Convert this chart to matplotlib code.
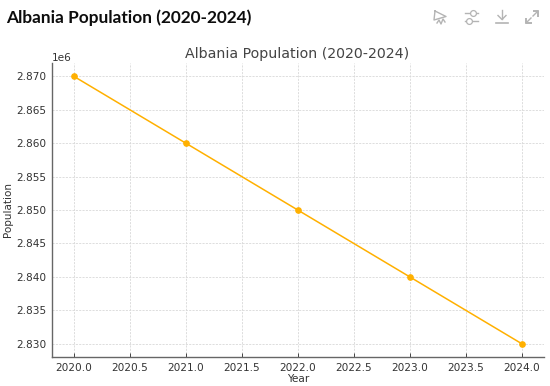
import matplotlib
matplotlib.use("Agg")
import matplotlib.pyplot as plt
from matplotlib.lines import Line2D

years = [2020, 2021, 2022, 2023, 2024]
population = [2870000, 2860000, 2850000, 2840000, 2830000]
title = "Albania Population (2020-2024)"

W, H = 550, 386
fig = plt.figure(figsize=(W / 100, H / 100), dpi=100, facecolor="white")
L, R, T, B = 51.5, 544, 63, 357
ax = fig.add_axes([L / W, 1 - B / H, (R - L) / W, (B - T) / H])

ax.plot(years, population, color="#FFB000", lw=1.1, marker="o", ms=3.8)
ax.set_title(title, fontsize=10.2, color="#444444", pad=3.5, x=0.498)
ax.set_xlabel("Year", fontsize=7.6, color="#333333", labelpad=1.2)
ax.set_ylabel("Population", fontsize=7.5, color="#333333", labelpad=0)
ax.yaxis.set_label_coords(-0.078, 0.5)
ax.grid(True, ls=(0, (2.5, 1.5)), lw=0.6, color="#d8d8d8")
ax.set_axisbelow(True)
for s in ("top", "right"):
    ax.spines[s].set_visible(False)
for s in ("left", "bottom"):
    ax.spines[s].set_color("#666666")
    ax.spines[s].set_linewidth(1.0)
ax.tick_params(axis="both", labelsize=7.6, labelcolor="#333333", color="#444444",
               length=3, width=0.7, direction="in", pad=4)
ax.tick_params(axis="y", length=0, pad=3.5)
ax.yaxis.get_offset_text().set_fontsize(7.6)
ax.yaxis.get_offset_text().set_color("#333333")
ax.yaxis.OFFSETTEXTPAD = 1.5

fig.text(6 / W, 1 - 18 / H, title, fontsize=12.4, color="#0d0d0d", fontweight="bold",
         family="Lato", va="center", ha="left")


def seg(xs, ys, color="#b4b4b4", lw=1.0, **kw):
    fig.add_artist(Line2D([x / W for x in xs], [1 - y / H for y in ys],
                          color=color, lw=lw, transform=fig.transFigure, **kw))


def ring(x, y):
    seg([x], [y], marker="o", ms=4.2, mfc="white", mec="#b4b4b4", mew=0.9, ls="none")


# toolbar: chart-type icon
seg([435, 446, 434, 435], [11, 16.5, 20, 11])
seg([437, 439, 441, 443, 445], [23, 20, 24, 19, 22])
# sliders icon
seg([465, 478], [13, 13]); ring(473, 13)
seg([465, 478], [21, 21]); ring(469, 21)
# download icon
seg([502, 502], [10, 19]); seg([498, 502, 506], [15.5, 19.5, 15.5]); seg([496, 508], [23, 23], lw=1.2)
# expand icon
seg([533, 538], [16, 11]); seg([533.5, 538, 538], [11, 11, 15.5], lw=1.4)
seg([526, 531], [23, 18]); seg([526, 526, 530.5], [18.5, 23, 23], lw=1.4)

fig.savefig("out.png", dpi=100)
